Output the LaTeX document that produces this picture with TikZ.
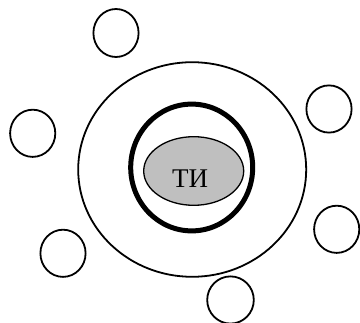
\documentclass[tikz,border=0pt]{standalone}
\usepackage{fontspec}
\setmainfont{Liberation Serif}
\begin{document}
\begin{tikzpicture}[x=1pt,y=-1pt,
  thin line/.style={draw=black,line width=1.8pt},
]
\useasboundingbox (0,0) rectangle (360,323);
\begin{scope}
\clip (0,0) rectangle (360,323);
% satellite circles
\draw[thin line] (116,33) ellipse [x radius=22.6, y radius=24];
\draw[thin line] (32.7,133.3) ellipse [x radius=22.6, y radius=23.6];
\draw[thin line] (63,253.3) ellipse [x radius=22.6, y radius=23.6];
\draw[thin line] (329,109) ellipse [x radius=22.6, y radius=23.6];
\draw[thin line] (336.7,229.3) ellipse [x radius=22.6, y radius=23.6];
\draw[thin line] (230.5,300) ellipse [x radius=23.3, y radius=23.6];
% outer ellipse
\draw[thin line] (192.2,169.5) ellipse [x radius=114, y radius=107.3];
% thick circle
\draw[line width=5pt] (191.7,167.5) ellipse [x radius=61, y radius=63.4];
% gray core
\draw[line width=1.3pt,fill=black!25] (193.7,171) ellipse [x radius=50, y radius=34.3];
\end{scope}
\node[font=\fontsize{27}{30}\selectfont,inner sep=0pt,anchor=base] (ti) at (190,188) {ТИ};
\end{tikzpicture}
\end{document}
